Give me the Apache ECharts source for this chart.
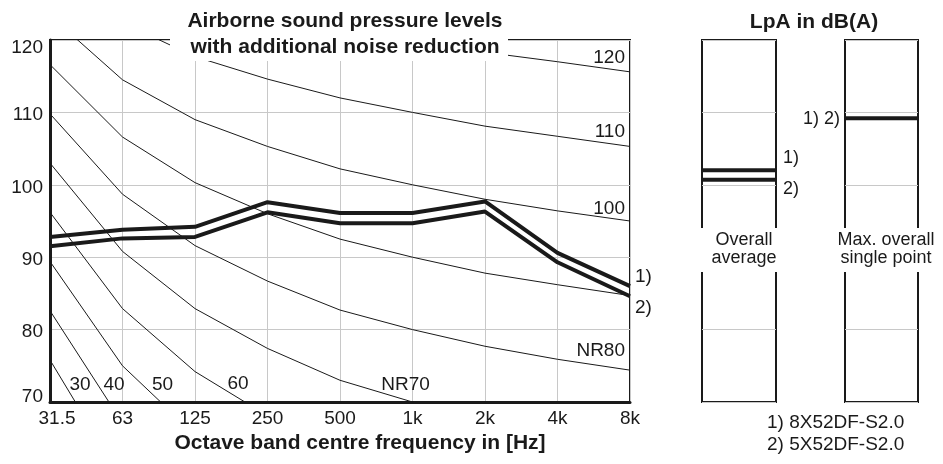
<!DOCTYPE html>
<html>
<head>
<meta charset="utf-8">
<script src="https://cdn.jsdelivr.net/npm/echarts@6/dist/echarts.min.js"></script>
<style>
  html, body { margin: 0; padding: 0; background: #fff; }
  #chart { width: 943px; height: 464px; }
</style>
</head>
<body>
<div id="chart"></div>
<script>
// octave band centre frequencies
var freqs = ['31.5', '63', '125', '250', '500', '1k', '2k', '4k', '8k'];
var yTicks = [70, 80, 90, 100, 110, 120];

// noise rating curves NR30 ... NR120 (dB per octave band)
var nr30  = [75.8, 59.2, 48.1, 40.0, 34.0, 30, 26.9, 24.7, 22.9];
var nr40  = [82.6, 67.1, 56.8, 49.6, 43.7, 40, 37.1, 34.9, 33.2];
var nr50  = [89.4, 75.0, 65.5, 58.8, 53.5, 50, 47.2, 45.2, 43.5];
var nr60  = [96.2, 82.9, 74.2, 68.1, 63.2, 60, 57.4, 55.4, 53.8];
var nr70  = [103.0, 90.8, 82.9, 77.4, 73.0, 70, 67.5, 65.7, 64.1];
var nr80  = [109.8, 98.7, 91.6, 86.7, 82.7, 80, 77.7, 75.9, 74.4];
var nr90  = [116.6, 106.6, 100.3, 96.0, 92.5, 90, 87.8, 86.2, 84.7];
var nr100 = [123.4, 114.5, 109.0, 105.3, 102.2, 100, 98.0, 96.4, 95.0];
var nr110 = [130.2, 122.4, 117.7, 114.6, 112.0, 110, 108.1, 106.7, 105.3];
var nr120 = [137.0, 130.3, 126.4, 123.9, 121.7, 120, 118.3, 117.0, 115.6];

// measured levels: 1) 8X52DF-S2.0, 2) 5X52DF-S2.0
var unit1 = [92.8, 93.8, 94.2, 97.6, 96.1, 96.1, 97.7, 90.6, 86.0];
var unit2 = [91.5, 92.6, 92.8, 96.2, 94.7, 94.7, 96.3, 89.3, 84.6];

// LpA in dB(A)
var avgUnit1 = 102.0;
var avgUnit2 = 100.7;
var maxBoth = 109.2;

var FONT = '"Liberation Sans", Arial, sans-serif';
var INK = '#1a1a1a';
var GRID = '#c8c8c8';

// put a text label on one point of a series
function withLabel(values, idx, text, lbl) {
    return values.map(function (v, i) {
        if (i !== idx) return v;
        var l = { show: true, formatter: text, color: INK, fontSize: 19, fontFamily: FONT };
        for (var k in lbl) l[k] = lbl[k];
        return { value: v, label: l };
    });
}

function levelData(v, idx, text, lbl) {
    return withLabel([[0, v], [1, v]], idx, text, lbl);
}

var nrLabels = [
    { data: nr30,  idx: 0, text: '30',   lbl: { position: 'inside', offset: [30, 25] } },
    { data: nr40,  idx: 0, text: '40',   lbl: { position: 'inside', offset: [64, 74] } },
    { data: nr50,  idx: 1, text: '50',   lbl: { position: 'inside', offset: [40, 19] } },
    { data: nr60,  idx: 2, text: '60',   lbl: { position: 'inside', offset: [43, 12] } },
    { data: nr70,  idx: 5, text: 'NR70', lbl: { position: 'inside', offset: [-7, -17] } },
    { data: nr80,  idx: 8, text: 'NR80', lbl: { position: 'left', distance: 5, offset: [0, -19] } },
    { data: nr90,  idx: -1, text: '',    lbl: {} },
    { data: nr100, idx: 8, text: '100',  lbl: { position: 'left', distance: 5, offset: [0, -12] } },
    { data: nr110, idx: 8, text: '110',  lbl: { position: 'left', distance: 5, offset: [0, -15] } },
    { data: nr120, idx: 8, text: '120',  lbl: { position: 'left', distance: 5, offset: [0, -14] } }
];

var series = nrLabels.map(function (c) {
    return {
        type: 'line',
        xAxisIndex: 0, yAxisIndex: 0,
        data: withLabel(c.data, c.idx, c.text, c.lbl),
        symbol: 'circle', symbolSize: 0,
        lineStyle: { color: INK, width: 1 },
        itemStyle: { color: INK },
        label: { show: false },
        silent: true,
        z: 2
    };
});

series.push({
    type: 'line', xAxisIndex: 0, yAxisIndex: 0,
    data: withLabel(unit1, 8, '1)', { position: 'right', distance: 5, offset: [0, -9] }),
    symbol: 'circle', symbolSize: 0,
    lineStyle: { color: INK, width: 4 }, itemStyle: { color: INK },
    label: { show: false }, silent: true, z: 3
});
series.push({
    type: 'line', xAxisIndex: 0, yAxisIndex: 0,
    data: withLabel(unit2, 8, '2)', { position: 'right', distance: 5, offset: [0, 11] }),
    symbol: 'circle', symbolSize: 0,
    lineStyle: { color: INK, width: 4 }, itemStyle: { color: INK },
    label: { show: false }, silent: true, z: 3
});

// overall average box
series.push({
    type: 'line', xAxisIndex: 1, yAxisIndex: 1,
    data: levelData(avgUnit1, 1, '1)', { position: 'right', distance: 7, offset: [0, -12], fontSize: 18 }),
    symbol: 'circle', symbolSize: 0,
    lineStyle: { color: INK, width: 4 }, itemStyle: { color: INK },
    label: { show: false }, silent: true, z: 3
});
series.push({
    type: 'line', xAxisIndex: 1, yAxisIndex: 1,
    data: levelData(avgUnit2, 1, '2)', { position: 'right', distance: 7, offset: [0, 9], fontSize: 18 }),
    symbol: 'circle', symbolSize: 0,
    lineStyle: { color: INK, width: 4 }, itemStyle: { color: INK },
    label: { show: false }, silent: true, z: 3
});
// max. overall single point box
series.push({
    type: 'line', xAxisIndex: 2, yAxisIndex: 2,
    data: levelData(maxBoth, 0, '1) 2)', { position: 'left', distance: 5, offset: [0, 1], fontSize: 18 }),
    symbol: 'circle', symbolSize: 0,
    lineStyle: { color: INK, width: 4 }, itemStyle: { color: INK },
    label: { show: false }, silent: true, z: 3
});

function boxY(i) {
    return {
        type: 'value', gridIndex: i,
        min: yTicks[0], max: yTicks[yTicks.length - 1], interval: 10,
        axisLine: { show: false }, axisTick: { show: false }, axisLabel: { show: false },
        splitLine: { lineStyle: { color: GRID, width: 1 } }
    };
}
function boxX(i) {
    return {
        type: 'value', gridIndex: i, min: 0, max: 1,
        axisLine: { show: false }, axisTick: { show: false }, axisLabel: { show: false },
        splitLine: { show: false }
    };
}

var chart = echarts.init(document.getElementById('chart'));
var option = {
    animation: false,
    backgroundColor: '#fff',
    textStyle: { fontFamily: FONT },
    title: [
        {
            text: 'Airborne sound pressure levels\nwith additional noise reduction',
            left: 340, top: 3, textAlign: 'center', z: 60,
            textStyle: { fontFamily: FONT, fontSize: 21, fontWeight: 'bold', color: INK, lineHeight: 26 }
        },
        {
            text: 'LpA in dB(A)',
            left: 809, top: 5, textAlign: 'center', z: 60,
            textStyle: { fontFamily: FONT, fontSize: 21, fontWeight: 'bold', color: INK, lineHeight: 24 }
        },
        {
            text: 'Overall\naverage',
            left: 739, top: 226, textAlign: 'center', z: 60,
            textStyle: { fontFamily: FONT, fontSize: 18, fontWeight: 'normal', color: INK, lineHeight: 18 }
        },
        {
            text: 'Max. overall\nsingle point',
            left: 881, top: 226, textAlign: 'center', z: 60,
            textStyle: { fontFamily: FONT, fontSize: 18, fontWeight: 'normal', color: INK, lineHeight: 18 }
        },
        {
            text: '1) 8X52DF-S2.0\n2) 5X52DF-S2.0',
            left: 762, top: 407, z: 60,
            textStyle: { fontFamily: FONT, fontSize: 19, fontWeight: 'normal', color: INK, lineHeight: 22 }
        }
    ],
    // white masks behind the titles that break the frames
    graphic: [
        { type: 'rect', z: 50, silent: true, shape: { x: 170, y: 0, width: 338, height: 61 }, style: { fill: '#fff' } },
        { type: 'rect', z: 50, silent: true, shape: { x: 695, y: 228, width: 90, height: 44 }, style: { fill: '#fff' } },
        { type: 'rect', z: 50, silent: true, shape: { x: 835, y: 228, width: 95, height: 44 }, style: { fill: '#fff' } }
    ],
    grid: [
        { left: 50, top: 40, width: 580, height: 362, show: true, borderColor: INK, borderWidth: 2, containLabel: false },
        { left: 702, top: 40, width: 74, height: 362, show: true, borderColor: INK, borderWidth: 2 },
        { left: 845, top: 40, width: 73, height: 362, show: true, borderColor: INK, borderWidth: 2 }
    ],
    xAxis: [
        {
            type: 'category', gridIndex: 0, data: freqs, boundaryGap: false,
            axisLine: { lineStyle: { color: INK, width: 3 } },
            axisTick: { show: false },
            axisLabel: {
                color: INK, fontSize: 19, fontFamily: FONT, margin: 7, interval: 0,
                formatter: function (v, i) { return i === 0 ? '{f|' + v + '}' : v; },
                rich: { f: { fontSize: 19, fontFamily: FONT, color: INK, padding: [0, 0, 0, 14] } }
            },
            splitLine: { show: true, interval: 0, lineStyle: { color: GRID, width: 1 } },
            name: 'Octave band centre frequency in [Hz]',
            nameLocation: 'middle', nameGap: 30,
            nameTextStyle: { fontFamily: FONT, fontSize: 21, fontWeight: 'bold', color: INK, padding: [0, 0, 0, 40] }
        },
        boxX(1),
        boxX(2)
    ],
    yAxis: [
        {
            type: 'value', gridIndex: 0,
            min: yTicks[0], max: yTicks[yTicks.length - 1], interval: 10,
            axisLine: { show: true, lineStyle: { color: INK, width: 3 } },
            axisTick: { show: false },
            axisLabel: {
                color: INK, fontSize: 19, fontFamily: FONT, margin: 7,
                formatter: function (v) {
                    if (v === yTicks[yTicks.length - 1]) return '{t|' + v + '}';
                    if (v === yTicks[0]) return '{b|' + v + '}';
                    return '{m|' + v + '}';
                },
                rich: {
                    t: { fontSize: 19, fontFamily: FONT, color: INK, padding: [15, 0, 0, 0] },
                    b: { fontSize: 19, fontFamily: FONT, color: INK, padding: [0, 0, 10, 0] },
                    m: { fontSize: 19, fontFamily: FONT, color: INK, padding: [5, 0, 0, 0] }
                }
            },
            splitLine: { lineStyle: { color: GRID, width: 1 } }
        },
        boxY(1),
        boxY(2)
    ],
    series: series
};
chart.setOption(option);
window.addEventListener('resize', function () { chart.resize(); });
</script>
</body>
</html>
